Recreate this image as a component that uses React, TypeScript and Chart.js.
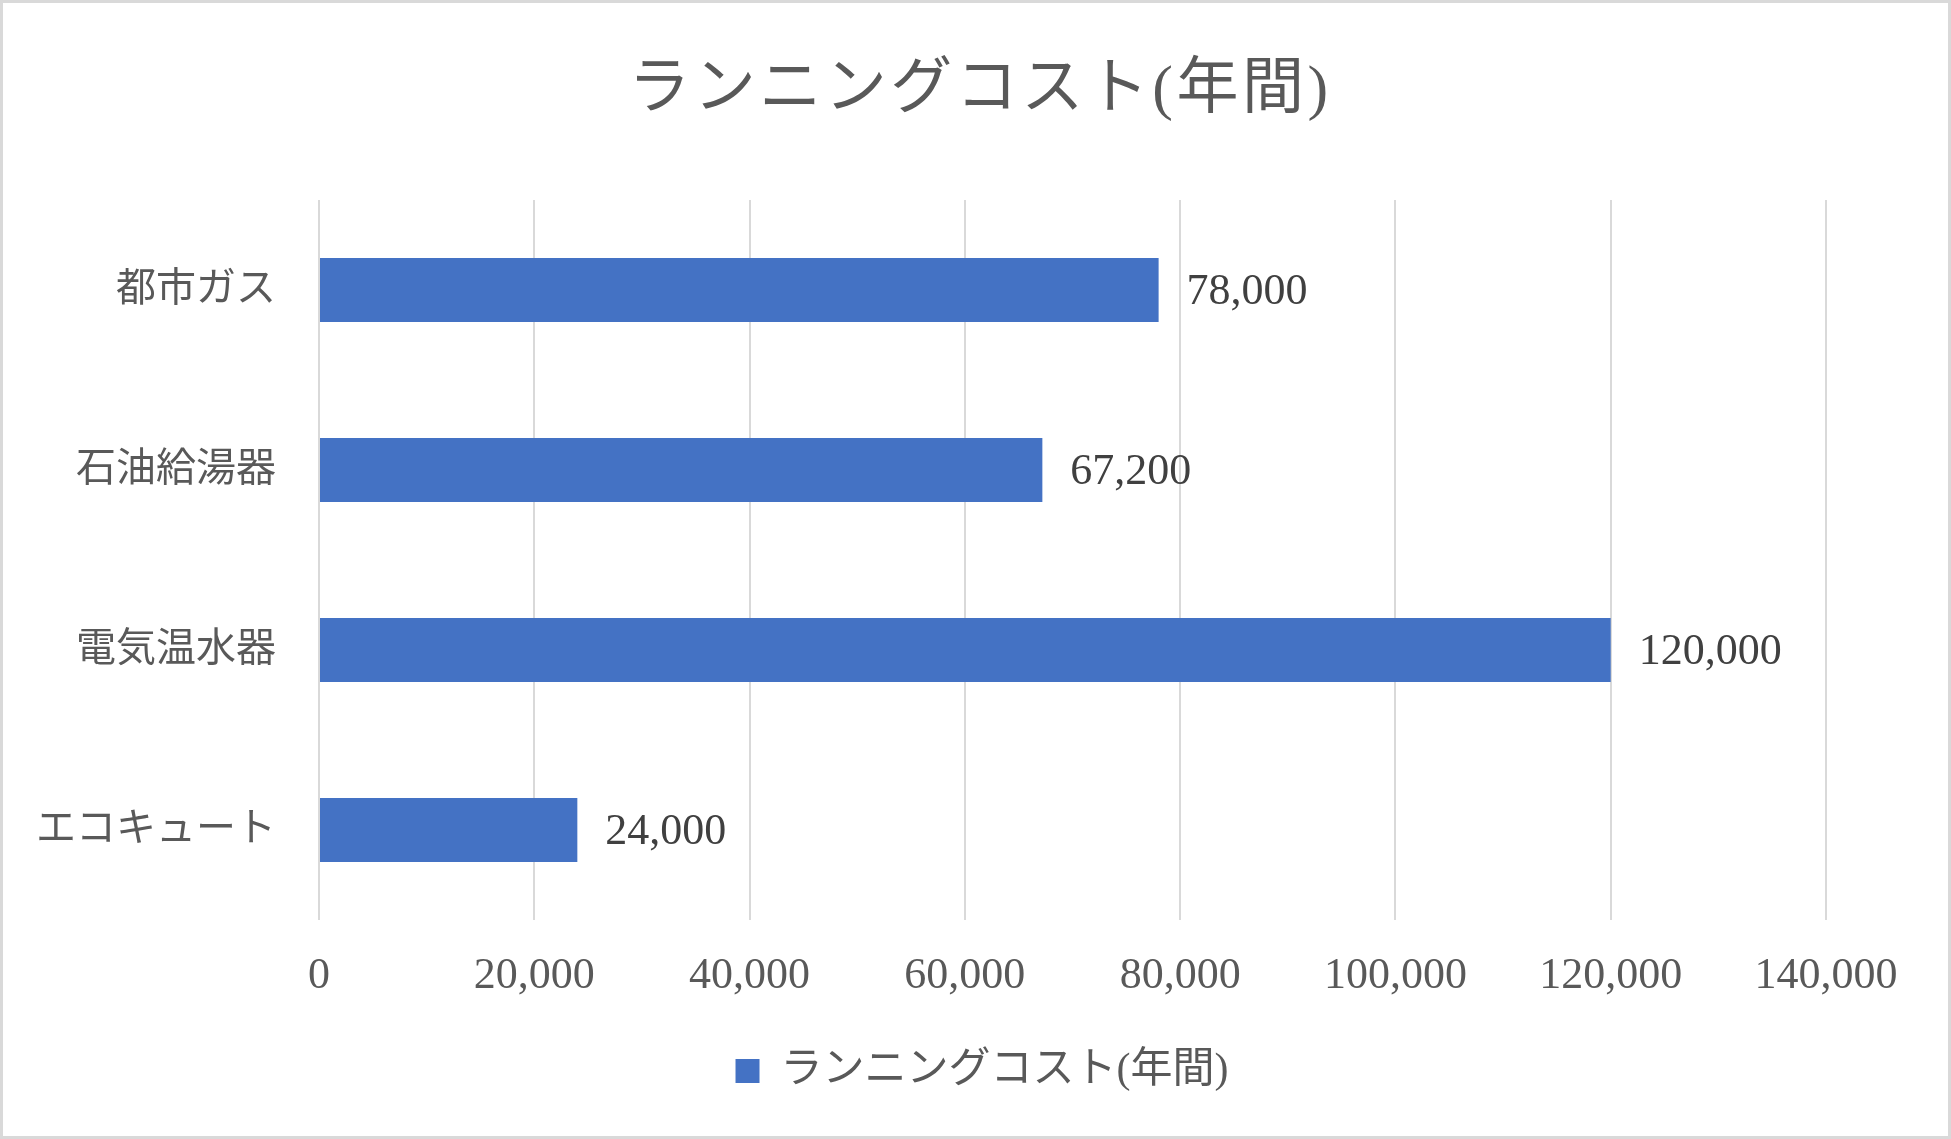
import React, { useEffect, useRef } from 'react';
import { Chart, registerables } from 'chart.js';

Chart.register(...registerables);

const TITLE = 'ランニングコスト(年間)';
const SERIES_NAME = 'ランニングコスト(年間)';
const categories = ['都市ガス', '石油給湯器', '電気温水器', 'エコキュート'];
const values = [78000, 67200, 120000, 24000];
const xMin = 0;
const xMax = 140000;
const xStep = 20000;

const FONT = "'Liberation Serif', 'Noto Sans CJK JP', serif";
const W = 1951;
const H = 1139;

const titlePlugin = {
  id: 'customTitle',
  afterDraw(chart: any) {
    const ctx = chart.ctx;
    ctx.save();
    ctx.font = `62px ${FONT}`;
    ctx.fillStyle = '#595959';
    ctx.textAlign = 'center';
    ctx.textBaseline = 'middle';
    (ctx as any).letterSpacing = '3.5px';
    ctx.fillText(TITLE, 980, 92);
    (ctx as any).letterSpacing = '0px';
    ctx.restore();
  },
};

// shift the legend so that it is centred on the whole picture, as in the reference
const legendShiftPlugin = {
  id: 'legendShift',
  afterLayout(chart: any) {
    if (chart.legend) {
      chart.legend.left += 138;
    }
  },
};

const dataLabelPlugin = {
  id: 'dataLabels',
  afterDatasetsDraw(chart: any) {
    const ctx = chart.ctx;
    const meta = chart.getDatasetMeta(0);
    ctx.save();
    ctx.font = `44px ${FONT}`;
    ctx.fillStyle = '#404040';
    ctx.textAlign = 'left';
    ctx.textBaseline = 'middle';
    meta.data.forEach((bar: any, i: number) => {
      const { x, y } = bar.getProps(['x', 'y'], true);
      const v = chart.data.datasets[0].data[i] as number;
      ctx.fillText(v.toLocaleString('en-US'), x + 28, y + 2);
    });
    ctx.restore();
  },
};

export default function App() {
  const canvasRef = useRef<HTMLCanvasElement | null>(null);

  useEffect(() => {
    if (!canvasRef.current) return;
    const chart = new Chart(canvasRef.current, {
      type: 'bar',
      data: {
        labels: categories,
        datasets: [
          {
            label: SERIES_NAME,
            data: values,
            backgroundColor: '#4472C4',
            borderWidth: 0,
            categoryPercentage: 1,
            barPercentage: 0.355,
          },
        ],
      },
      options: {
        indexAxis: 'y',
        responsive: false,
        animation: false,
        layout: { padding: { top: 200, right: 125, bottom: 37, left: 0 } },
        plugins: {
          title: { display: false },
          tooltip: { enabled: false },
          legend: {
            position: 'bottom',
            labels: {
              font: { family: FONT, size: 42 },
              color: '#595959',
              boxWidth: 24,
              boxHeight: 24,
              padding: 10,
            },
          },
        },
        scales: {
          x: {
            min: xMin,
            max: xMax,
            ticks: {
              stepSize: xStep,
              font: { family: FONT, size: 44 },
              color: '#595959',
              padding: 30,
              maxRotation: 0,
              autoSkip: false,
              callback: (v: any) => Number(v).toLocaleString('en-US'),
            },
            grid: { color: '#d9d9d9', lineWidth: 2, drawTicks: false },
            border: { display: false },
            afterFit: (s: any) => {
              s.height = 120;
            },
          },
          y: {
            ticks: {
              font: { family: FONT, size: 40 },
              color: '#595959',
              padding: 43,
            },
            grid: { display: false, drawTicks: false },
            border: { display: false },
            afterFit: (s: any) => {
              s.width = 319;
            },
          },
        },
      } as any,
      plugins: [titlePlugin, legendShiftPlugin, dataLabelPlugin],
    });
    return () => chart.destroy();
  }, []);

  return (
    <div style={{ position: 'absolute', left: 0, top: 0, width: W, height: H, background: '#fff' }}>
      <canvas ref={canvasRef} width={W} height={H} style={{ position: 'absolute', left: 0, top: 0, width: W, height: H }} />
      <div
        style={{
          position: 'absolute',
          left: 0,
          top: 0,
          width: W,
          height: H,
          boxSizing: 'border-box',
          border: '3px solid #d9d9d9',
          pointerEvents: 'none',
        }}
      />
    </div>
  );
}
